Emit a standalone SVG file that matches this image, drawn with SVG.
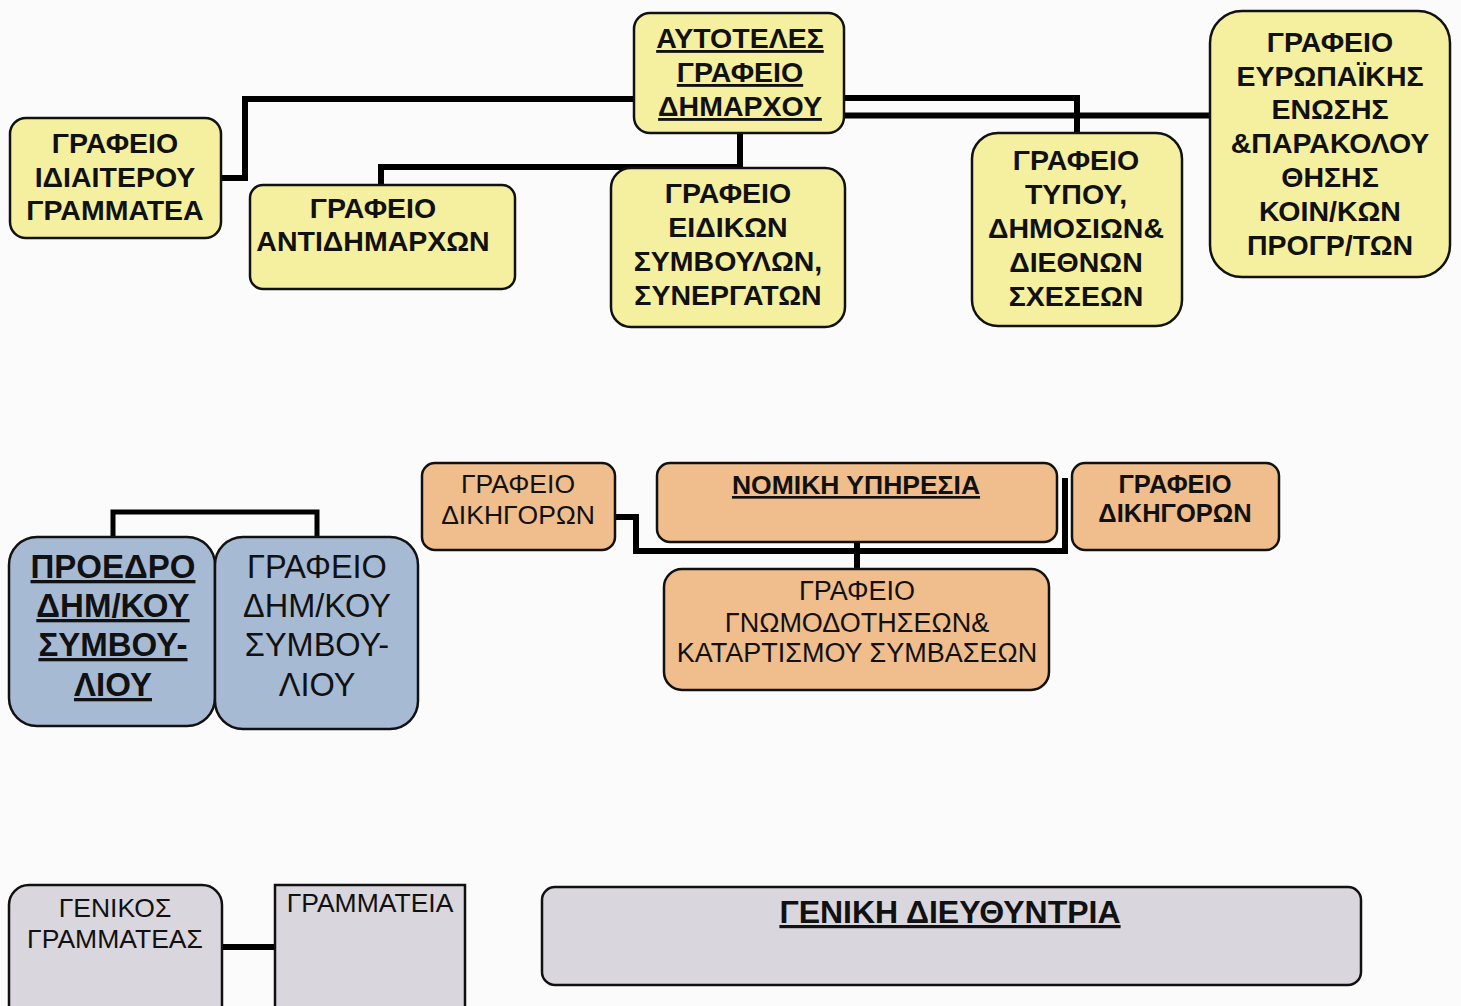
<svg xmlns="http://www.w3.org/2000/svg" width="1461" height="1006" viewBox="0 0 1461 1006">
<style>
.bg{fill:#fbfbfb}
.y{fill:#f5f09f;stroke:#111;stroke-width:2.5}
.o{fill:#f0bd8c;stroke:#111;stroke-width:2.5}
.b{fill:#a6bad3;stroke:#111;stroke-width:2.5}
.g{fill:#d9d6dd;stroke:#111;stroke-width:2.5}
.conn path{fill:none;stroke:#000;stroke-width:6;stroke-linejoin:miter;stroke-linecap:butt}
text{font-family:"Liberation Sans",Arial,sans-serif;fill:#111;text-anchor:middle}
.tb{font-weight:bold;font-size:28.5px}
.tr{font-size:26.5px}
.u{text-decoration:underline;text-decoration-thickness:3px}
</style>
<rect class="bg" x="0" y="0" width="1461" height="1006"/>
<g id="connectors" class="conn">
<path d="M633,99 H245 V178 H220"/>
<path d="M740,133 V167 H381 V185"/>
<path d="M845,98 H1077 V133"/>
<path d="M845,115.5 H1210"/>
<path d="M113,537 V512 H317 V537" style="stroke-width:5"/>
<path d="M615,517 H636 V551 H1065 V478"/>
<path d="M857,542 V569"/>
<path d="M222,947 H275"/>
</g>
<g id="n-autoteles">
<rect class="y" x="634" y="13" width="210" height="120" rx="16"/>
<text class="tb u" x="740" y="48">ΑΥΤΟΤΕΛΕΣ</text>
<text class="tb u" x="740" y="82">ΓΡΑΦΕΙΟ</text>
<text class="tb u" x="740" y="116">ΔΗΜΑΡΧΟΥ</text>
</g>
<g id="n-idiaiterou">
<rect class="y" x="10" y="118" width="211" height="120" rx="16"/>
<text class="tb" x="115" y="153">ΓΡΑΦΕΙΟ</text>
<text class="tb" x="115" y="187">ΙΔΙΑΙΤΕΡΟΥ</text>
<text class="tb" x="115" y="220">ΓΡΑΜΜΑΤΕΑ</text>
</g>
<g id="n-antidimarxon">
<rect class="y" x="250" y="185" width="265" height="104" rx="13"/>
<text class="tb" x="373" y="218">ΓΡΑΦΕΙΟ</text>
<text class="tb" x="373" y="251">ΑΝΤΙΔΗΜΑΡΧΩΝ</text>
</g>
<g id="n-eidikon">
<rect class="y" x="611" y="168" width="234" height="159" rx="20"/>
<text class="tb" x="728" y="203">ΓΡΑΦΕΙΟ</text>
<text class="tb" x="728" y="237">ΕΙΔΙΚΩΝ</text>
<text class="tb" x="728" y="271">ΣΥΜΒΟΥΛΩΝ,</text>
<text class="tb" x="728" y="305">ΣΥΝΕΡΓΑΤΩΝ</text>
</g>
<g id="n-typou">
<rect class="y" x="972" y="133" width="210" height="193" rx="26"/>
<text class="tb" x="1076" y="170">ΓΡΑΦΕΙΟ</text>
<text class="tb" x="1076" y="204">ΤΥΠΟΥ,</text>
<text class="tb" x="1076" y="238">ΔΗΜΟΣΙΩΝ&amp;</text>
<text class="tb" x="1076" y="272">ΔΙΕΘΝΩΝ</text>
<text class="tb" x="1076" y="306">ΣΧΕΣΕΩΝ</text>
</g>
<g id="n-europaikis">
<rect class="y" x="1210" y="11" width="240" height="266" rx="32"/>
<text class="tb" x="1330" y="52">ΓΡΑΦΕΙΟ</text>
<text class="tb" x="1330" y="86">ΕΥΡΩΠΑΪΚΗΣ</text>
<text class="tb" x="1330" y="119">ΕΝΩΣΗΣ</text>
<text class="tb" x="1330" y="153">&amp;ΠΑΡΑΚΟΛΟΥ</text>
<text class="tb" x="1330" y="187">ΘΗΣΗΣ</text>
<text class="tb" x="1330" y="221">ΚΟΙΝ/ΚΩΝ</text>
<text class="tb" x="1330" y="255">ΠΡΟΓΡ/ΤΩΝ</text>
</g>
<g id="n-dikigoron-left">
<rect class="o" x="422" y="463" width="193" height="87" rx="13"/>
<text class="tr" x="518" y="493">ΓΡΑΦΕΙΟ</text>
<text class="tr" x="518" y="524">ΔΙΚΗΓΟΡΩΝ</text>
</g>
<g id="n-nomiki">
<rect class="o" x="657" y="463" width="400" height="79" rx="13"/>
<text class="tb u" x="856" y="494" style="font-size:26.5px">ΝΟΜΙΚΗ ΥΠΗΡΕΣΙΑ</text>
</g>
<g id="n-dikigoron-right">
<rect class="o" x="1072" y="463" width="207" height="87" rx="13"/>
<text class="tb" x="1175" y="493" style="font-size:25.5px">ΓΡΑΦΕΙΟ</text>
<text class="tb" x="1175" y="522" style="font-size:25.5px">ΔΙΚΗΓΟΡΩΝ</text>
</g>
<g id="n-gnomodotiseon">
<rect class="o" x="664" y="569" width="385" height="121" rx="18"/>
<text class="tr" x="857" y="600" style="font-size:27px">ΓΡΑΦΕΙΟ</text>
<text class="tr" x="857" y="632" style="font-size:27px">ΓΝΩΜΟΔΟΤΗΣΕΩΝ&amp;</text>
<text class="tr" x="857" y="662" style="font-size:27px">ΚΑΤΑΡΤΙΣΜΟΥ ΣΥΜΒΑΣΕΩΝ</text>
</g>
<g id="n-proedros">
<rect class="b" x="9" y="537" width="206" height="189" rx="28"/>
<text class="tb u" x="113" y="578" style="font-size:33px">ΠΡΟΕΔΡΟ</text>
<text class="tb u" x="113" y="617" style="font-size:33px">ΔΗΜ/ΚΟΥ</text>
<text class="tb u" x="113" y="656" style="font-size:33px">ΣΥΜΒΟΥ-</text>
<text class="tb u" x="113" y="696" style="font-size:33px">ΛΙΟΥ</text>
</g>
<g id="n-grafeio-dimkou">
<rect class="b" x="215" y="537" width="203" height="192" rx="28"/>
<text class="tr" x="317" y="578" style="font-size:32.5px">ΓΡΑΦΕΙΟ</text>
<text class="tr" x="317" y="617" style="font-size:32.5px">ΔΗΜ/ΚΟΥ</text>
<text class="tr" x="317" y="656" style="font-size:32.5px">ΣΥΜΒΟΥ-</text>
<text class="tr" x="317" y="696" style="font-size:32.5px">ΛΙΟΥ</text>
</g>
<g id="n-genikos">
<rect class="g" x="9" y="885" width="213" height="150" rx="20"/>
<text class="tr" x="115" y="917">ΓΕΝΙΚΟΣ</text>
<text class="tr" x="115" y="948">ΓΡΑΜΜΑΤΕΑΣ</text>
</g>
<g id="n-grammateia">
<rect class="g" x="275" y="885" width="190" height="150"/>
<text class="tr" x="370" y="912">ΓΡΑΜΜΑΤΕΙΑ</text>
</g>
<g id="n-geniki">
<rect class="g" x="542" y="887" width="819" height="98" rx="13"/>
<text class="tb u" x="950" y="923" style="font-size:32px">ΓΕΝΙΚΗ ΔΙΕΥΘΥΝΤΡΙΑ</text>
</g>
</svg>
